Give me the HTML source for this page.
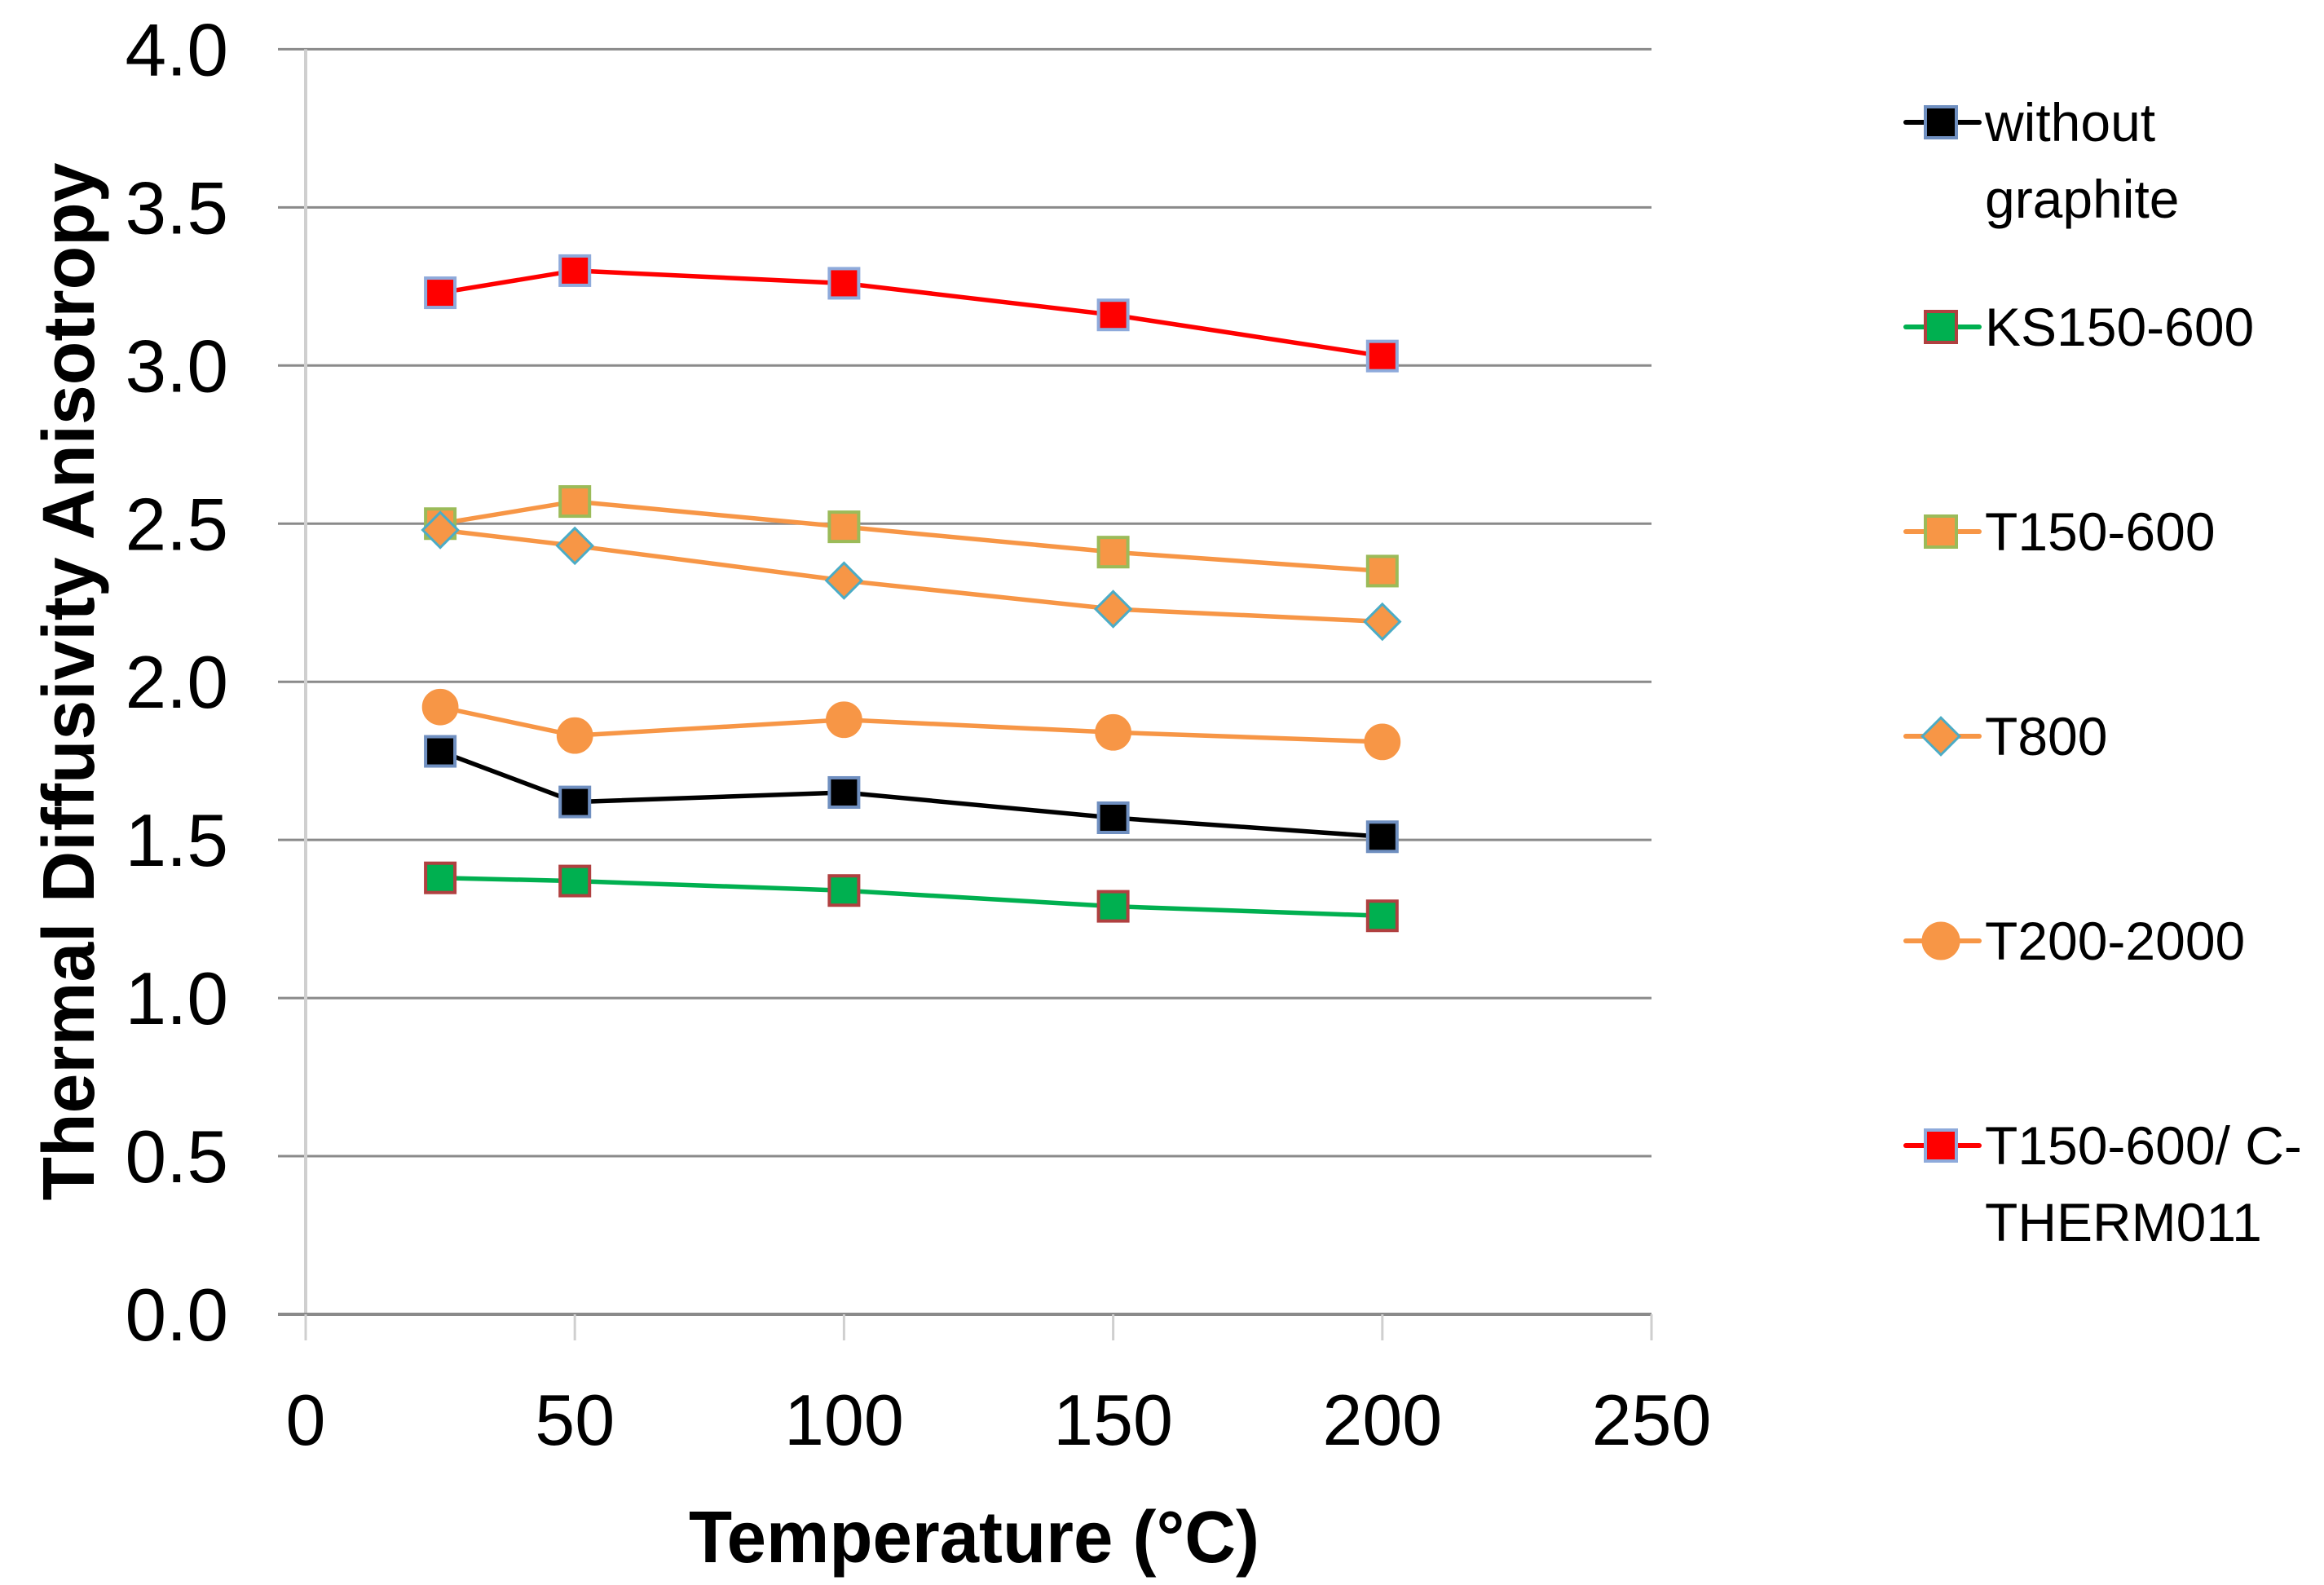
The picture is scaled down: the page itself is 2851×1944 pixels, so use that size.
<!DOCTYPE html>
<html><head><meta charset="utf-8"><style>
html,body{margin:0;padding:0;background:#fff;}
svg{display:block;font-family:"Liberation Sans",sans-serif;}
</style></head><body>
<svg id="chart" width="2851" height="1944" viewBox="0 0 2851 1944" xmlns="http://www.w3.org/2000/svg">
<g id="grid"></g>
<g id="axes"></g>
<g id="series"></g>
<g id="legend"></g>
<text x="1195" y="1916" font-size="90" font-weight="bold" text-anchor="middle" textLength="700" lengthAdjust="spacingAndGlyphs">Temperature (°C)</text>
<text transform="translate(115,836) rotate(-90)" font-size="90" font-weight="bold" text-anchor="middle" textLength="1273" lengthAdjust="spacingAndGlyphs">Thermal Diffusivity Anisotropy</text>
</svg>
<script>
const temps = [25, 50, 100, 150, 200];
const xTicks = [0, 50, 100, 150, 200, 250];
const yTicks = [0.0, 0.5, 1.0, 1.5, 2.0, 2.5, 3.0, 3.5, 4.0];
const seriesNames = ["without graphite", "KS150-600", "T150-600", "T800", "T200-2000", "T150-600/ C-THERM011"];
const withoutGraphite = [1.78, 1.62, 1.65, 1.57, 1.51];
const ks150 = [1.38, 1.37, 1.34, 1.29, 1.26];
const t150 = [2.50, 2.57, 2.49, 2.41, 2.35];
const t800 = [2.48, 2.43, 2.32, 2.23, 2.19];
const t200 = [1.92, 1.83, 1.88, 1.84, 1.81];
const cTherm = [3.23, 3.30, 3.26, 3.16, 3.03];

const NS = "http://www.w3.org/2000/svg";
const X0 = 375, XPX = 330.2/50, Y0 = 1612, YPX = 387.9;
function sx(v){ return X0 + v*XPX; }
function sy(v){ return Y0 - v*YPX; }
function mk(tag, attrs, parent){
  const e = document.createElementNS(NS, tag);
  for (const k in attrs) e.setAttribute(k, attrs[k]);
  parent.appendChild(e); return e;
}
const grid = document.getElementById('grid');
const axes = document.getElementById('axes');
const series = document.getElementById('series');
const legend = document.getElementById('legend');

yTicks.forEach(v => {
  if (v > 0) {
    const g = mk('line', {x1:341, x2:sx(250), y1:sy(v), y2:sy(v), stroke:'#8a8a8a', 'stroke-width':3}, grid);
    
    
  }
  const t = mk('text', {x:280, y:sy(v)+32, 'font-size':91, 'text-anchor':'end', fill:'#000'}, axes);
  t.textContent = v.toFixed(1);
  
  
});
const ya = mk('line', {x1:X0, x2:X0, y1:sy(4), y2:Y0, stroke:'#cfcfcf', 'stroke-width':4}, axes);


const xa = mk('line', {x1:341, x2:sx(250), y1:Y0, y2:Y0, stroke:'#8a8a8a', 'stroke-width':4}, axes);


xTicks.forEach(v => {
  const tk = mk('line', {x1:sx(v), x2:sx(v), y1:Y0, y2:Y0+32, stroke:'#cfcfcf', 'stroke-width':3}, axes);
  
  
  const t = mk('text', {x:sx(v), y:1772, 'font-size':88, 'text-anchor':'middle', fill:'#000'}, axes);
  t.textContent = v;
  
  
});

const styles = [
  {data:withoutGraphite, line:'#000000', fill:'#000000', edge:'#6f8fc0', shape:'square'},
  {data:ks150, line:'#00b050', fill:'#00b050', edge:'#b04040', shape:'square'},
  {data:t150, line:'#f79646', fill:'#f79646', edge:'#9bbb59', shape:'square'},
  {data:t800, line:'#f79646', fill:'#f79646', edge:'#4bacc6', shape:'diamond'},
  {data:t200, line:'#f79646', fill:'#f79646', edge:'#f79646', shape:'circle'},
  {data:cTherm, line:'#ff0000', fill:'#ff0000', edge:'#8eaadb', shape:'square'}
];
function marker(shape, cx, cy, s, parent, size){
  let m;
  if (shape === 'square') m = mk('rect', {x:cx-size/2, y:cy-size/2, width:size, height:size, fill:s.fill, stroke:s.edge, 'stroke-width':4}, parent);
  else if (shape === 'diamond') { const r=size*0.6; m = mk('polygon', {points:`${cx},${cy-r} ${cx+r},${cy} ${cx},${cy+r} ${cx-r},${cy}`, fill:s.fill, stroke:s.edge, 'stroke-width':3}, parent); }
  else m = mk('circle', {cx:cx, cy:cy, r:size*0.58, fill:s.fill, stroke:s.edge, 'stroke-width':3}, parent);
  return m;
}
styles.forEach((s, i) => {
  const g = mk('g', {}, series);
  
  
  const pts = s.data.map((v, j) => sx(temps[j]) + ',' + sy(v)).join(' ');
  const pl = mk('polyline', {points:pts, fill:'none', stroke:s.line, 'stroke-width':5.5, 'stroke-linejoin':'round'}, g);
  
  
  s.data.forEach((v, j) => {
    const m = marker(s.shape, sx(temps[j]), sy(v), s, g, 36);
    
    
  });
  const ly = 150 + i*251;
  const lg = mk('g', {}, legend);
  
  
  mk('line', {x1:2338, x2:2428, y1:ly, y2:ly, stroke:s.line, 'stroke-width':6, 'stroke-linecap':'round'}, lg);
  marker(s.shape, 2381, ly, s, lg, 38);
  const lines = i === 0 ? ['without', 'graphite'] : (i === 5 ? ['T150-600/ C-', 'THERM011'] : [seriesNames[i]]);
  lines.forEach((ln, k) => {
    const t = mk('text', {x:2435, y:ly+23+k*94, 'font-size':66, fill:'#000'}, lg);
    t.textContent = ln;
  });
});
</script>
</body></html>
